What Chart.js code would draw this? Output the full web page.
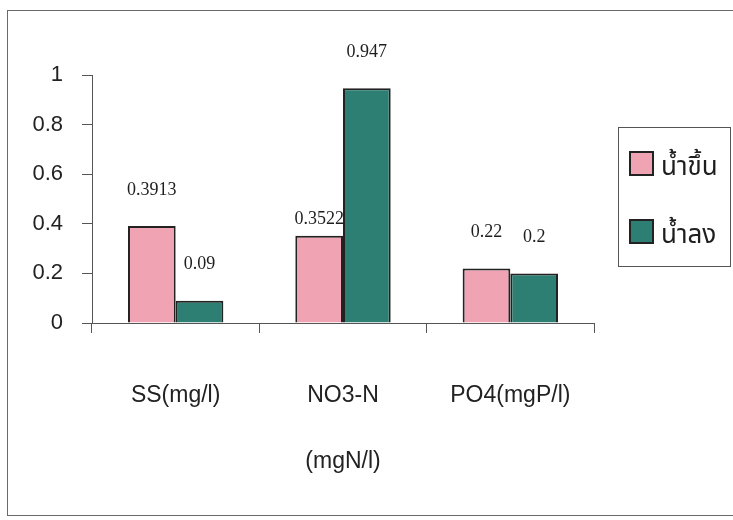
<!DOCTYPE html>
<html>
<head>
<meta charset="utf-8">
<script src="https://cdn.jsdelivr.net/npm/chart.js@4"></script>
<style>
  html, body { margin: 0; padding: 0; background: #fff; }
  #wrap { width: 733px; height: 520px; }
</style>
</head>
<body>
<div id="wrap"><canvas id="waterChart" width="733" height="520"></canvas></div>
<script>
const categories = ["SS(mg/l)", ["NO3-N", "(mgN/l)"], "PO4(mgP/l)"];
const seriesNames = ["น้ำขึ้น", "น้ำลง"];
const highTide = [0.3913, 0.3522, 0.22];
const lowTide = [0.09, 0.947, 0.2];
const valueLabels = [["0.3913", "0.3522", "0.22"], ["0.09", "0.947", "0.2"]];
const yTicks = [0, 0.2, 0.4, 0.6, 0.8, 1];

const sansFont = "'Liberation Sans', Arial, sans-serif";
const serifFont = "'Liberation Serif', 'Times New Roman', serif";
const thaiFont = "'Noto Sans Thai', 'Loma', 'Garuda', 'Norasi', 'Tlwg Typo', sans-serif";

// value labels above each bar
const barLabels = {
  id: "barLabels",
  afterDatasetsDraw(chart) {
    const ctx = chart.ctx;
    ctx.save();
    ctx.font = "18px " + serifFont;
    ctx.fillStyle = "#1e1e1e";
    ctx.textAlign = "center";
    ctx.textBaseline = "middle";
    chart.data.datasets.forEach((ds, di) => {
      chart.getDatasetMeta(di).data.forEach((bar, i) => {
        let offset = 36;
        const next = chart.data.datasets[di + 1];
        if (next && next.data[i] > ds.data[i]) offset = 16;
        ctx.fillText(valueLabels[di][i], bar.x, bar.y - offset);
      });
    });
    ctx.restore();
  }
};

// outer frame and legend box
const frameAndLegend = {
  id: "frameAndLegend",
  beforeDraw(chart) {
    const ctx = chart.ctx;
    ctx.save();
    ctx.fillStyle = "#fff";
    ctx.fillRect(0, 0, chart.width, chart.height);
    ctx.strokeStyle = "#6a6a6a";
    ctx.lineWidth = 1;
    ctx.strokeRect(7.5, 10.5, 740, 505);
    ctx.restore();
  },
  afterDraw(chart) {
    const ctx = chart.ctx;
    ctx.save();
    ctx.strokeStyle = "#555";
    ctx.lineWidth = 1;
    ctx.strokeRect(618.5, 127.5, 112, 139);
    const rows = [175, 243];
    chart.data.datasets.forEach((ds, i) => {
      const bottom = rows[i];
      ctx.fillStyle = ds.backgroundColor;
      ctx.fillRect(630, bottom - 23, 23, 23);
      ctx.strokeStyle = "#222";
      ctx.lineWidth = 2;
      ctx.strokeRect(630, bottom - 23, 23, 23);
      ctx.fillStyle = "#1e1e1e";
      ctx.font = "26px " + thaiFont;
      ctx.textAlign = "left";
      ctx.textBaseline = "alphabetic";
      ctx.fillText(ds.label, 661, bottom);
    });
    ctx.restore();
  }
};

const ctx = document.getElementById("waterChart").getContext("2d");
new Chart(ctx, {
  type: "bar",
  data: {
    labels: categories,
    datasets: [
      {
        label: seriesNames[0],
        data: highTide,
        backgroundColor: "#f0a3b3",
        borderColor: "#222",
        borderWidth: 2,
        categoryPercentage: 0.57,
        barPercentage: 1.0
      },
      {
        label: seriesNames[1],
        data: lowTide,
        backgroundColor: "#2e7f73",
        borderColor: "#222",
        borderWidth: 2,
        categoryPercentage: 0.57,
        barPercentage: 1.0
      }
    ]
  },
  options: {
    responsive: false,
    animation: false,
    layout: { padding: { top: 75, right: 139, left: 0, bottom: 0 } },
    plugins: {
      legend: { display: false },
      tooltip: { enabled: false }
    },
    scales: {
      x: {
        offset: true,
        grid: { offset: true, drawOnChartArea: false, tickLength: 10, color: "#555", lineWidth: 1 },
        border: { color: "#555", width: 1 },
        ticks: {
          color: "#222",
          font: { family: sansFont, size: 23, lineHeight: 2.9 },
          padding: 29,
          maxRotation: 0,
          autoSkip: false
        },
        afterFit: s => { s.height = 197; }
      },
      y: {
        min: 0,
        max: 1,
        afterBuildTicks: s => { s.ticks = yTicks.map(v => ({ value: v })); },
        grid: { drawOnChartArea: false, tickLength: 10, color: "#555", lineWidth: 1 },
        border: { color: "#555", width: 1 },
        ticks: {
          color: "#222",
          font: { family: sansFont, size: 22 },
          padding: 19,
          callback: v => String(v)
        },
        afterFit: s => { s.width = 92; }
      }
    }
  },
  plugins: [frameAndLegend, barLabels]
});
</script>
</body>
</html>
